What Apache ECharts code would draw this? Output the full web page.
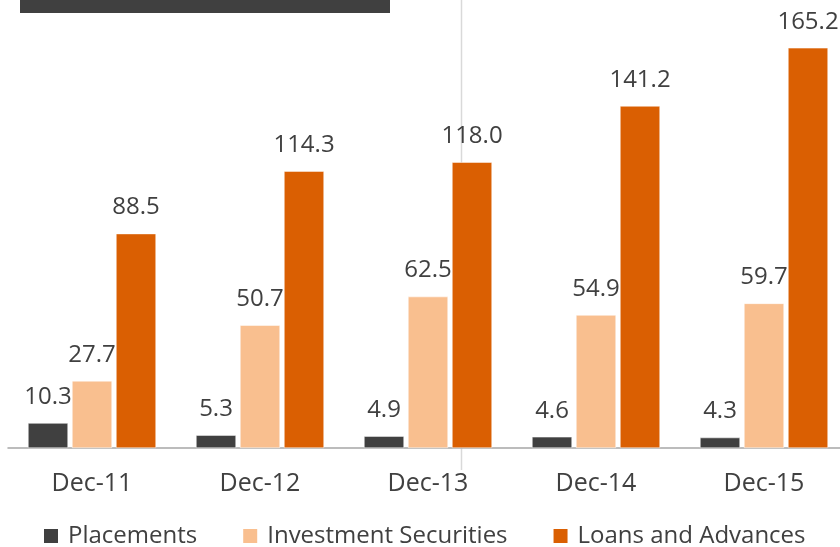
<!DOCTYPE html>
<html><head><meta charset="utf-8">
<script src="https://cdn.jsdelivr.net/npm/echarts@6/dist/echarts.min.js"></script>
<style>html,body{margin:0;padding:0;background:#fff}#c{width:840px;height:547px}</style>
</head><body><div id="c"></div>
<script>
const categories = ['Dec-11','Dec-12','Dec-13','Dec-14','Dec-15'];
const placements = [10.3, 5.3, 4.9, 4.6, 4.3];
const investmentSecurities = [27.7, 50.7, 62.5, 54.9, 59.7];
const loansAndAdvances = [88.5, 114.3, 118.0, 141.2, 165.2];
const seriesNames = ['Placements','Investment Securities','Loans and Advances'];

const FONT = '"Open Sans", sans-serif';
const TXT = '#404040';
const colors = ['#404040', '#F9BF8F', '#DA5F02'];
const label = {show:true, position:'top', distance:14, color:TXT, fontFamily:FONT, fontSize:24,
  formatter: p => p.value.toFixed(1)};
function mk(name, data, color){
  return {name, type:'bar', data, barWidth:40, barGap:'10%',
    itemStyle:{color, borderColor:'#fff', borderWidth:0.5}, label, silent:true};
}
const chart = echarts.init(document.getElementById('c'), null, {renderer:'canvas'});
chart.setOption({
  animation:false,
  grid:{left:8, width:840, top:12, height:436, containLabel:false, outerBoundsMode:'none'},
  xAxis:{type:'category', data:categories,
    axisLine:{lineStyle:{color:'#A6A6A6', width:1.5}}, axisTick:{show:false},
    axisLabel:{color:TXT, fontFamily:FONT, fontSize:25, margin:23}},
  yAxis:{type:'value', min:0, max:180, show:false, splitLine:{show:false}},
  legend:{data:seriesNames, left:42, top:524, padding:0, icon:'rect', itemWidth:16, itemHeight:16, itemGap:44,
    textStyle:{color:TXT, fontFamily:FONT, fontSize:24, padding:[0,0,0,4]}},
  series:[mk(seriesNames[0], placements, colors[0]), mk(seriesNames[1], investmentSecurities, colors[1]), mk(seriesNames[2], loansAndAdvances, colors[2])],
  graphic:[
    {type:'rect', shape:{x:20, y:0, width:370, height:13}, style:{fill:'#404040'}, z:10},
    {type:'line', shape:{x1:461.5, y1:0, x2:461.5, y2:470}, style:{stroke:'#D9D9D9', lineWidth:1.5}, z:-1}
  ]
});
</script></body></html>
